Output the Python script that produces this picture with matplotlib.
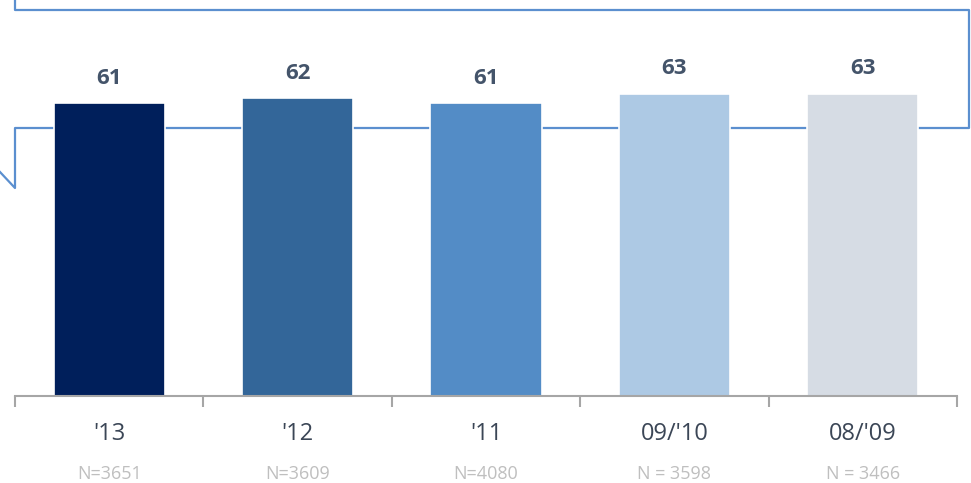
import matplotlib.pyplot as plt
from matplotlib.lines import Line2D

plt.rcParams['font.family'] = ['Open Sans', 'DejaVu Sans']

years = ["'13", "'12", "'11", "09/'10", "08/'09"]
values = [61, 62, 61, 63, 63]
sample_sizes = ["N=3651", "N=3609", "N=4080", "N = 3598", "N = 3466"]
colors = ['#001f5b', '#336699', '#538cc6', '#adc9e4', '#d6dce4']

W, H = 971, 483
fig = plt.figure(figsize=(W / 100, H / 100), dpi=100)

# axes: x from 15 to 957 px, baseline at y=396 px
ax = fig.add_axes([15 / W, (H - 396) / H, (957 - 15) / W, 396 / H])
ax.set_xlim(-0.5, 4.5)
ax.set_ylim(0, 396 / 4.8)

# callout outline behind the bars (pixel coords, y from top)
px = [15, 15, 969, 969, 15, 15, 0]
py = [-10, 10, 10, 128, 128, 188, 172]
outline = Line2D([x / W for x in px], [1 - y / H for y in py],
                 transform=fig.transFigure, color='#5b8fcf', lw=1.6,
                 clip_on=False, zorder=0.5)
ax.add_line(outline)

x = range(len(values))
ax.bar(x, values, width=0.59, color=colors, edgecolor='white', linewidth=1.2, zorder=2)

for xi, v in zip(x, values):
    ax.annotate(str(v), (xi, v), xytext=(0, 18), textcoords='offset points',
                ha='center', va='center', fontsize=16, fontweight='bold', color='#44546a')

for xi, lab, n in zip(x, years, sample_sizes):
    ax.annotate(lab, (xi, 0), xycoords=('data', 'axes fraction'), xytext=(0, -27),
                textcoords='offset points', ha='center', va='center',
                fontsize=17, color='#3b4656')
    ax.annotate(n, (xi, 0), xycoords=('data', 'axes fraction'), xytext=(0, -56),
                textcoords='offset points', ha='center', va='center',
                fontsize=13, color='#bfbfbf')

for s in ['top', 'right', 'left']:
    ax.spines[s].set_visible(False)
ax.spines['bottom'].set_color('#a6a6a6')
ax.spines['bottom'].set_linewidth(1.5)
ax.set_yticks([])
ax.set_xticks([-0.5, 0.5, 1.5, 2.5, 3.5, 4.5])
ax.set_xticklabels([])
ax.tick_params(axis='x', length=8, width=1.5, color='#a6a6a6')
ax.patch.set_alpha(0)

fig.savefig('out.png', dpi=100)
